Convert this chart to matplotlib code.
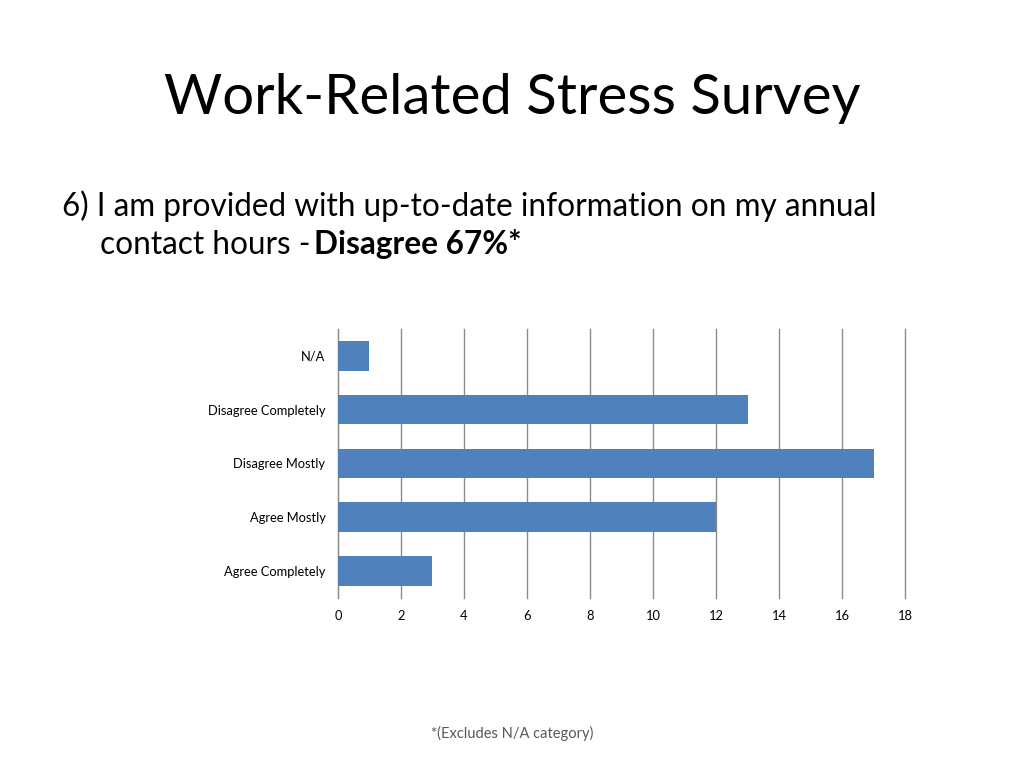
#!/usr/bin/env python3
"""
Work-related stress survey, question 6
"""

import matplotlib
matplotlib.use("Agg")
import matplotlib.pyplot as plt

categories = ["Agree Completely", "Agree Mostly", "Disagree Mostly",
              "Disagree Completely", "N/A"]
counts = [3, 12, 17, 13, 1]
xticks = [0, 2, 4, 6, 8, 10, 12, 14, 16, 18]

title = "Work-Related Stress Survey"
question_1 = "6) I am provided with up-to-date information on my annual"
question_2 = "contact hours - "
question_bold = "Disagree 67%*"
footnote = "*(Excludes N/A category)"


def main():
	plt.rcParams["font.family"] = ["Lato", "DejaVu Sans"]

	fig = plt.figure(figsize=(10.24, 7.68), dpi=100)
	fig.patch.set_facecolor("white")

	ax = fig.add_axes([0.330, 0.2214, 0.554, 0.3502])
	ax.barh(categories, counts, height=0.55, color="#4F81BD", zorder=3)

	ax.set_xlim(0, 18)
	ax.set_ylim(-0.5, len(categories) - 0.5)
	ax.set_xticks(xticks)
	ax.set_xticklabels([str(t) for t in xticks])
	ax.tick_params(axis="x", length=0, labelsize=9.3, pad=9)
	ax.tick_params(axis="y", length=0, labelsize=9.3, pad=9)
	ax.grid(True, axis="x", color="#8C8C8C", linewidth=1, zorder=0)
	for line in ax.get_xgridlines():
		line.set_clip_on(False)

	for side in ["top", "right", "bottom"]:
		ax.spines[side].set_visible(False)
	ax.spines["left"].set_color("#8C8C8C")

	fig.text(0.5, 1 - 98 / 768, title, ha="center", va="center",
	         fontsize=40.5, color="black")
	fig.text(62 / 1024, 1 - 206 / 768, question_1, ha="left", va="center",
	         fontsize=22.7, color="black")
	t2 = fig.text(100 / 1024, 1 - 245 / 768, question_2, ha="left",
	              va="center", fontsize=22.7, color="black")
	ax.annotate(question_bold, xy=(1, 0), xycoords=t2,
	            xytext=(-5, 1), textcoords="offset pixels", ha="left",
	            va="bottom", fontsize=22.7, fontweight="bold", color="black",
	            annotation_clip=False)

	fig.text(0.5, 1 - 733 / 768, footnote, ha="center", va="center",
	         fontsize=10.5, color="#595959")

	fig.savefig("out.png", dpi=100)


if __name__ == "__main__":
	main()
